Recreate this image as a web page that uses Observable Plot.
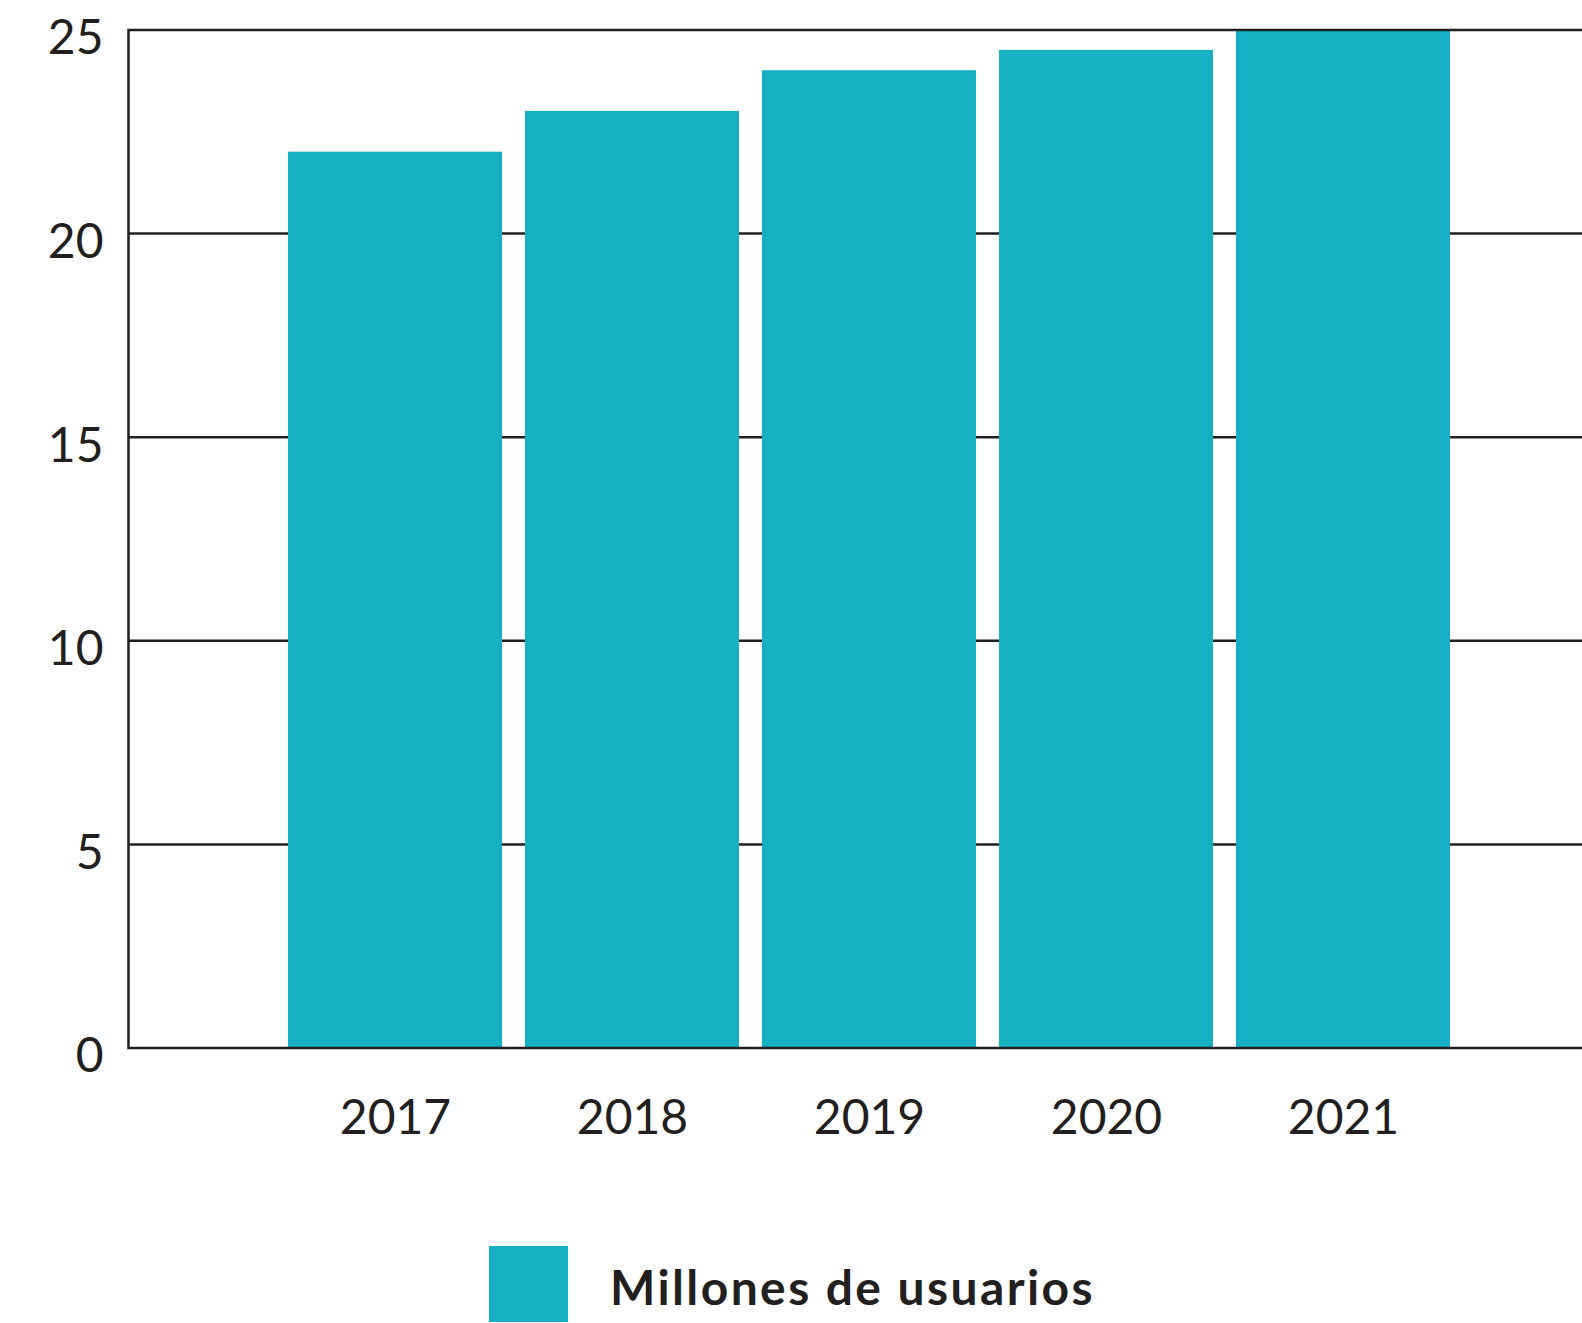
<!DOCTYPE html>
<html>
<head>
<meta charset="utf-8">
<script src="https://cdn.jsdelivr.net/npm/d3@7"></script>
<script src="https://cdn.jsdelivr.net/npm/@observablehq/plot@0.6"></script>
<style>
  html, body { margin: 0; padding: 0; background: #fff; }
  #chart { width: 1582px; overflow: hidden; }
  #chart svg { display: block; max-width: none !important; }
  .legend { margin-top: 66px; margin-left: 489px; display: flex; align-items: center; font-family: Lato, "Open Sans", sans-serif; }
  .legend .sw { width: 79px; height: 76px; background: #15b1c3; flex: none; }
  .legend .lab { margin-left: 42px; font-size: 48px; font-weight: 700; color: #231f20; margin-top: 4px; white-space: nowrap; letter-spacing: 2.4px; }
</style>
</head>
<body>
<div id="chart"></div>
<script>
const years = ["2017", "2018", "2019", "2020", "2021"];
const usuarios = [22, 23, 24, 24.5, 25];
const yTicks = [0, 5, 10, 15, 20, 25];
const seriesName = "Millones de usuarios";

const data = years.map((y, i) => ({year: y, value: usuarios[i]}));
const ink = "#231f20";
const barColor = "#15b1c3";

const plot = Plot.plot({
  width: 1590,
  height: 1180,
  marginTop: 29.5,
  marginBottom: 132.5,
  marginLeft: 128,
  marginRight: 4,
  style: {fontFamily: "Lato, 'Open Sans', sans-serif", color: ink, background: "#fff", maxWidth: "none"},
  x: {domain: years, range: [288, 1450.4], paddingInner: 0.097, paddingOuter: 0, label: null},
  y: {domain: [0, 25], label: null},
  marks: [
    Plot.ruleY(yTicks.filter(d => d > 0 && d < 25), {stroke: ink, strokeWidth: 2.5, strokeOpacity: 1}),
    Plot.barY(data, {x: "year", y: "value", fill: barColor, inset: 0}),
    Plot.frame({stroke: ink, strokeWidth: 2.5, strokeOpacity: 1}),
    Plot.axisY({ticks: yTicks, tickSize: 0, tickPadding: 25, fontSize: 48, dy: 9, fill: ink, label: null}),
    Plot.axisX({tickSize: 0, tickPadding: 52, fontSize: 48, fill: ink, label: null})
  ]
});
const chart = document.getElementById("chart");
chart.appendChild(plot);

const legend = document.createElement("div");
legend.className = "legend";
const sw = document.createElement("div");
sw.className = "sw";
const lab = document.createElement("div");
lab.className = "lab";
lab.textContent = seriesName;
legend.appendChild(sw);
legend.appendChild(lab);
document.body.appendChild(legend);
</script>
</body>
</html>
